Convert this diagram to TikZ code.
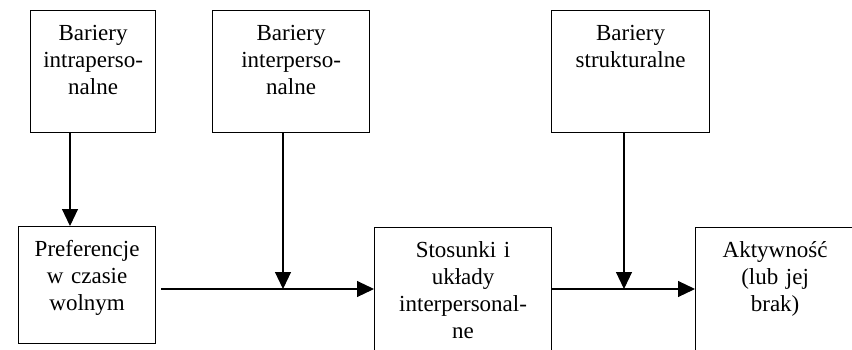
\documentclass[tikz,border=0pt]{standalone}
\usepackage{fontspec}
\setmainfont{Liberation Serif}
\usetikzlibrary{arrows.meta}

\begin{document}
\begin{tikzpicture}[
		x=1pt,y=-1pt,
		font=\fontsize{23}{27}\selectfont,
		box/.style={
			draw,
			line width=1.2pt,
			inner sep=0,
			anchor=north west,
			align=center,
			text height=30pt
		},
		barrier/.style={box, text depth=92pt},
		stage/.style={box, text depth=87pt},
		open/.style={box, text depth=130pt},
		link/.style={->, line width=1.1pt},
		>={Triangle[length=17pt,width=16pt]}
		]
		\useasboundingbox (0,0) rectangle (852,349);
		\clip (0,0) rectangle (852,349);
		% Barriers
		\node[barrier, text width=125pt] (intra) at (30,10) {Bariery\\intraperso-\\nalne};
		\node[barrier, text width=157pt] (inter) at (212,10) {Bariery\\interperso-\\nalne};
		\node[barrier, text width=158pt] (struct) at (551,10) {Bariery\\strukturalne};
		% Stages
		\node[stage, text width=137pt] (pref) at (18,226) {Preferencje\\w czasie\\wolnym};
		\node[open, text width=177pt] (rel) at (374,227) {Stosunki i\\układy\\interpersonal-\\ne};
		\node[open, text width=159pt] (act) at (695,227) {Aktywność\\(lub jej\\brak)};
		% Junctions
		\coordinate (j1) at (283,289);
		\coordinate (j2) at (624,289);
		% Barriers -> stages
		\draw[link] ([xshift=40pt]intra.south west) -- ([xshift=52pt]pref.north west);
		\draw[link] (inter.south -| j1) -- (j1);
		\draw[link] (struct.south -| j2) -- (j2);
		% Stage -> stage
		\draw[link, shorten <=5pt] (pref.east |- j1) -- (rel.west |- j1);
		\draw[link] (rel.east |- j2) -- (act.west |- j2);
\end{tikzpicture}
\end{document}
